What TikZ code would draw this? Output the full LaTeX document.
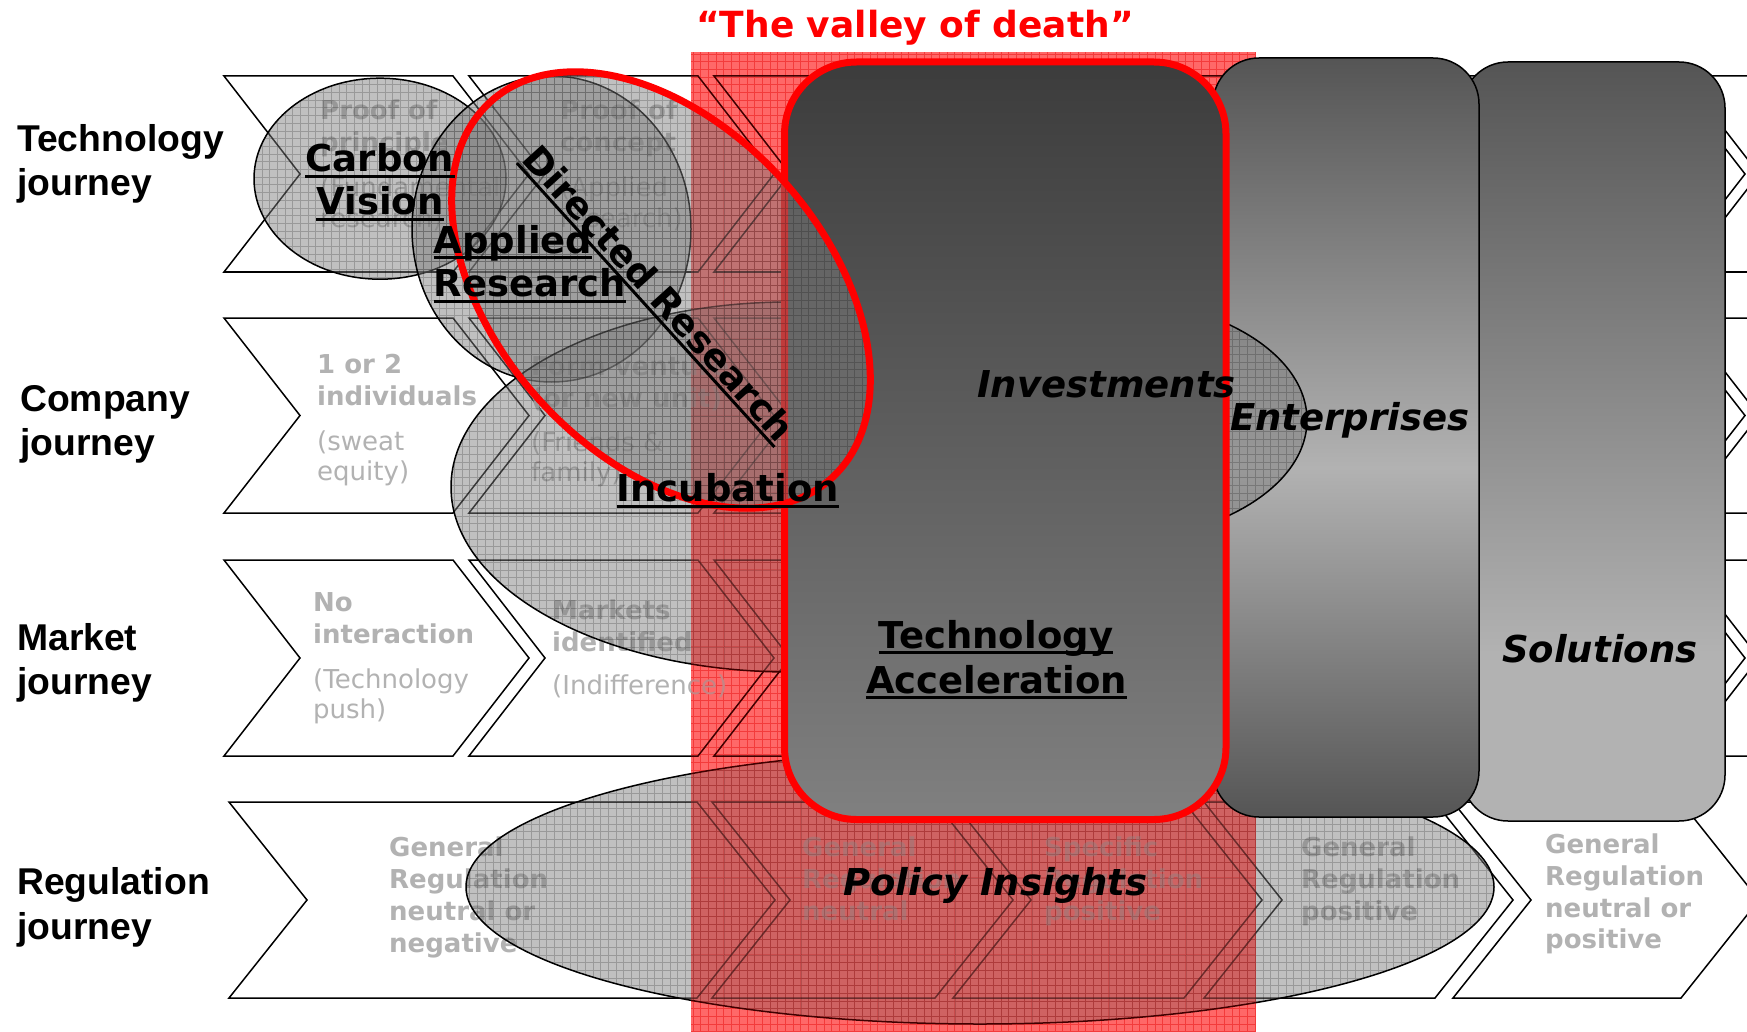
\documentclass[tikz,border=0pt]{standalone}
\usepackage{fontspec}
\setmainfont{DejaVu Sans}
\newfontfamily\arialfam{Liberation Sans}
\usetikzlibrary{calc}
\definecolor{chevgrey}{RGB}{178,178,178}
\definecolor{gA}{RGB}{85,85,85}
\definecolor{gB}{RGB}{178,178,178}
\definecolor{gC}{RGB}{60,60,60}
\definecolor{gD}{RGB}{128,128,128}
\definecolor{ellgrey}{RGB}{125,125,125}
\definecolor{bandred}{RGB}{255,140,140}
\definecolor{bandline}{RGB}{240,80,80}
\pgfdeclareverticalshading{solshade}{100bp}{color(0bp)=(gB); color(36bp)=(gB); color(75bp)=(gA); color(100bp)=(gA)}
\pgfdeclareverticalshading{entshade}{100bp}{color(0bp)=(gA); color(25bp)=(gA); color(48bp)=(gB); color(75bp)=(gA); color(100bp)=(gA)}
\newcommand\gbfont{\fontsize{26}{31}\selectfont\bfseries}
\newcommand\grfont{\fontsize{26}{31}\selectfont}
\newcommand\lblfont{\fontsize{37}{44}\selectfont\bfseries}
\newcommand\itlfont{\fontsize{37}{44}\selectfont\bfseries\itshape}
\newcommand\titfont{\fontsize{36}{42}\selectfont\bfseries}
\newcommand\rowfont{\arialfam\fontsize{37.3}{44}\selectfont\bfseries}
\tikzset{
  chev/.style={draw=black, line width=1.5pt},
  gtxt/.style={anchor=base west, inner sep=0pt, text=chevgrey},
  gb/.style={font=\gbfont},
  gr/.style={font=\grfont},
  lbl/.style={inner sep=0pt, font=\lblfont, text=black},
  itl/.style={inner sep=0pt, font=\itlfont, text=black, anchor=base west},
  rowlbl/.style={inner sep=0pt, font=\rowfont, anchor=base west},
  ulline/.style={line width=3pt},
  hfill/.style={fill=ellgrey, fill opacity=0.48},
  hgrid/.style={draw=black, draw opacity=0.2, line width=0.6pt, step=7.7pt},
  hline/.style={draw=black, line width=1.5pt},
  bandgrid/.style={draw=bandline, line width=0.7pt, step=7.7pt},
  bandtint/.style={fill=red, fill opacity=0.25},
  boxline/.style={draw=black, line width=1.5pt, rounded corners=46pt},
}
\newcommand\chevron[5]{\draw[chev] (#1,#2) -- ++(#3,0) -- ++(#4,#5/2) -- ++(-#4,#5/2) -- ++(-#3,0) -- ++(#4,-#5/2) -- cycle;}
% #1 path, #2..#5 grid box
\newcommand\hatched[5]{\fill[hfill] #1;
  \begin{scope}\clip #1; \draw[hgrid] (#2,#3) grid (#4,#5);\end{scope}
  \draw[hline] #1;}
\newcommand\ulnode[1]{\draw[ulline] ($(#1.base west)!4.5pt!-90:(#1.base east)$) -- ($(#1.base east)!4.5pt!90:(#1.base west)$);}
\newcommand\gtx[5]{\node[gtxt,#1] (#2) at (#3,#4) {#5};}
\begin{document}
\begin{tikzpicture}[x=1pt,y=-1pt]
\useasboundingbox (0,0) rectangle (1747,1032);
\fill[white] (0,0) rectangle (1747,1032);
% valley of death band
\fill[bandred] (691,52) rectangle (1256,1032);
\draw[bandgrid] (691,52) grid (1256,1032);
% chevrons rows 1-3
\foreach \t/\h in {76/196,318/195,560/196}{
  \foreach \l in {224,469,714,956,1198,1440,1683}{\chevron{\l}{\t}{229}{76}{\h}}}
% row 4
\chevron{229}{802}{468}{78}{196}
\chevron{712}{802}{223}{78}{196}
\chevron{953}{802}{231}{78}{196}
\chevron{1204}{802}{231}{78}{196}
\chevron{1453}{802}{228}{78}{196}
% grey texts
\gtx{gb}{t1a}{320}{120}{Proof of}
\gtx{gb}{t1b}{320}{152}{principle}
\gtx{gr}{t1c}{320}{197}{(Fundamental}
\gtx{gr}{t1d}{320}{228}{research)}
\gtx{gb}{t2a}{560}{120}{Proof of}
\gtx{gb}{t2b}{560}{152}{concept}
\gtx{gr}{t2c}{560}{197}{(Applied}
\gtx{gr}{t2d}{560}{228}{research)}
\gtx{gb}{c1a}{317}{373}{1 or 2}
\gtx{gb}{c1b}{317}{405}{individuals}
\gtx{gr}{c1c}{317}{450}{(sweat}
\gtx{gr}{c1d}{317}{480}{equity)}
\gtx{gb}{c2a}{531}{375}{Form venture}
\gtx{gb}{c2b}{531}{407}{(or new unit)}
\gtx{gr}{c2c}{531}{451}{(Friends \&}
\gtx{gr}{c2d}{531}{481}{family)}
\gtx{gb}{m1a}{313}{611}{No}
\gtx{gb}{m1b}{313}{643}{interaction}
\gtx{gr}{m1c}{313}{688}{(Technology}
\gtx{gr}{m1d}{313}{718}{push)}
\gtx{gb}{m2a}{552}{619}{Markets}
\gtx{gb}{m2b}{552}{651}{identified}
\gtx{gr}{m2c}{552}{694}{(Indifference)}
\gtx{gb}{r1a}{389}{856}{General}
\gtx{gb}{r1b}{389}{888}{Regulation}
\gtx{gb}{r1c}{389}{920}{neutral or}
\gtx{gb}{r1d}{389}{952}{negative}
\gtx{gb}{r2a}{802}{856}{General}
\gtx{gb}{r2b}{802}{888}{Regulation}
\gtx{gb}{r2c}{802}{920}{neutral}
\gtx{gb}{r3a}{1044}{856}{Specific}
\gtx{gb}{r3b}{1044}{888}{Regulation}
\gtx{gb}{r3c}{1044}{920}{positive}
\gtx{gb}{r4a}{1301}{856}{General}
\gtx{gb}{r4b}{1301}{888}{Regulation}
\gtx{gb}{r4c}{1301}{920}{positive}
\gtx{gb}{r5a}{1545}{853}{General}
\gtx{gb}{r5b}{1545}{885}{Regulation}
\gtx{gb}{r5c}{1545}{917}{neutral or}
\gtx{gb}{r5d}{1545}{948}{positive}
% hatched ellipses
\hatched{(380,178.7) ellipse [x radius=126, y radius=100.5]}{250}{75}{510}{282}
\hatched{(551.5,229) ellipse [x radius=139.5, y radius=153]}{408}{72}{695}{386}
\hatched{(790,487) ellipse [x radius=339, y radius=185]}{447}{298}{1133}{676}
\hatched{(980,887) ellipse [x radius=514, y radius=137]}{462}{746}{1498}{1028}
% red tint of the band over everything below
\fill[bandtint] (691,52) rectangle (1256,1032);
% boxes
\draw[boxline, shading=solshade] (1462,62) rectangle (1725,821);
\draw[boxline, shading=entshade] (1213,58) rectangle (1479,817);
\hatched{(1100,420) ellipse [x radius=207, y radius=122]}{890}{294}{1311}{546}
\draw[draw=red, line width=7pt, rounded corners=72pt, top color=gC, bottom color=gD] (784.5,62) rectangle (1226,819.5);
% directed research ellipse
\fill[hfill, rotate around={-47.9:(661,290)}] (661,290) ellipse [x radius=254, y radius=164];
\begin{scope}
  \clip[rotate around={-47.9:(661,290)}] (661,290) ellipse [x radius=254, y radius=164];
  \draw[hgrid] (440,60) grid (880,520);
\end{scope}
\draw[draw=red, line width=7pt, rotate around={-47.9:(661,290)}] (661,290) ellipse [x radius=254, y radius=164];
% row labels
\node[rowlbl] (lt1) at (17,152) {Technology};
\node[rowlbl] (lt2) at (17,196) {journey};
\node[rowlbl] (lc1) at (20,411) {Company};
\node[rowlbl] (lc2) at (20,455) {journey};
\node[rowlbl] (lm1) at (17,650) {Market};
\node[rowlbl] (lm2) at (17,694) {journey};
\node[rowlbl] (lr1) at (17,894) {Regulation};
\node[rowlbl] (lr2) at (17,939) {journey};
% title
\node[inner sep=0pt, anchor=base west, text=red, font=\titfont] (title) at (696,38) {“The valley of death”};
% labels
\node[lbl, anchor=base] (cv1) at (380,171.7) {Carbon}; \ulnode{cv1}
\node[lbl, anchor=base] (cv2) at (380,215) {Vision}; \ulnode{cv2}
\node[lbl, anchor=base west] (ar1) at (433.5,253.3) {Applied}; \ulnode{ar1}
\node[lbl, anchor=base west] (ar2) at (433.5,296.7) {Research}; \ulnode{ar2}
\node[lbl, anchor=base, rotate=-47.8] (dr) at (649,302) {Directed Research}; \ulnode{dr}
\node[lbl, anchor=base west] (inc) at (616.6,501.7) {Incubation}; \ulnode{inc}
\node[itl] (inv) at (977,397) {Investments};
\node[itl] (ent) at (1230,430) {Enterprises};
\node[lbl, anchor=base] (ta1) at (996,648.3) {Technology}; \ulnode{ta1}
\node[lbl, anchor=base] (ta2) at (996.5,693.3) {Acceleration}; \ulnode{ta2}
\node[itl] (sol) at (1502,662) {Solutions};
\node[itl] (pol) at (843,895) {Policy Insights};
\end{tikzpicture}
\end{document}
